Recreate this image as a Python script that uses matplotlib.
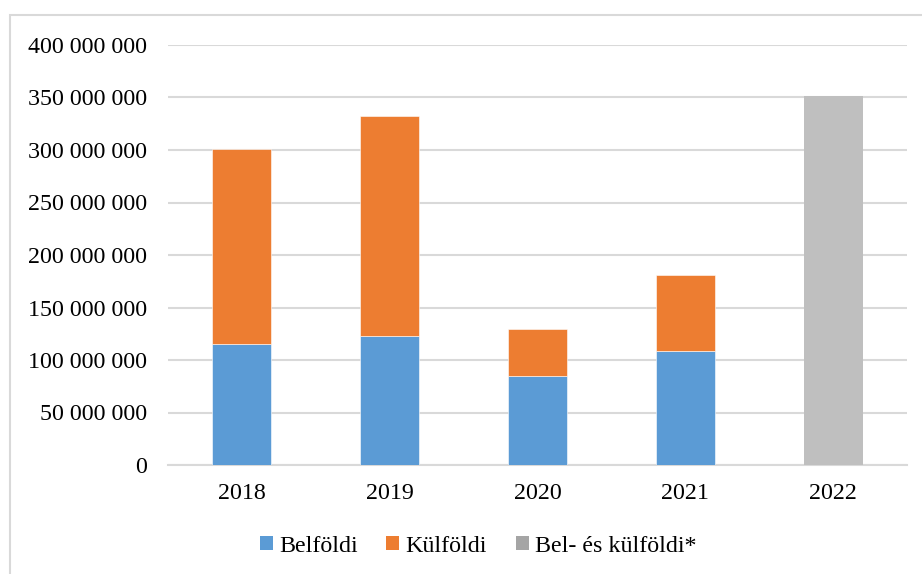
import matplotlib
matplotlib.use("Agg")
import matplotlib.pyplot as plt
import numpy as np
from matplotlib.patches import Patch, Rectangle

plt.rcParams["font.family"] = ["Liberation Serif", "DejaVu Serif"]

years = ["2018", "2019", "2020", "2021", "2022"]
belfoldi = [115.7e6, 123.3e6, 84.6e6, 108.1e6, 0]
kulfoldi = [185.3e6, 209.4e6, 45.0e6, 72.8e6, 0]
bel_es_kulfoldi = [0, 0, 0, 0, 351.7e6]
legend_labels = ["Belföldi", "Külföldi", "Bel- és külföldi*"]

BLUE = "#5B9BD5"
ORANGE = "#ED7D31"
GRAY_BAR = "#BFBFBF"
GRAY_LEG = "#A5A5A5"
FS = 17.3

W, H = 922, 574
fig = plt.figure(figsize=(W / 100, H / 100), dpi=100)

# outer chart border (cut off on right and bottom, as in the source)
fig.patches.append(
    Rectangle((10 / W, -0.05), 1.1, 1 - 15 / H + 0.05, transform=fig.transFigure,
              fill=False, edgecolor="#D9D9D9", linewidth=1.5, clip_on=False)
)

ax = fig.add_axes([168 / W, (H - 465) / H, (907 - 168) / W, 420 / H])

x = np.arange(len(years))
width = 0.4
ax.bar(x, belfoldi, width, color=BLUE, edgecolor="white", linewidth=0.4, zorder=3)
ax.bar(x, kulfoldi, width, bottom=belfoldi, color=ORANGE, edgecolor="white",
       linewidth=0.4, zorder=3)
ax.bar(x, bel_es_kulfoldi, width, color=GRAY_BAR, zorder=3)

ax.set_xlim(-0.5, len(years) - 0.5)
ax.set_ylim(0, 400e6)
yticks = np.arange(0, 400e6 + 1, 50e6)
ax.set_yticks(yticks)
ax.set_yticklabels([f"{int(v):,}".replace(",", " ") for v in yticks], fontsize=FS)
ax.set_xticks(x)
ax.set_xticklabels(years, fontsize=FS)
ax.tick_params(axis="y", length=0, pad=15)
ax.tick_params(axis="x", length=0, pad=13)

ax.grid(axis="y", color="#D9D9D9", linewidth=1.5, zorder=0)
for side in ["top", "right", "left"]:
    ax.spines[side].set_visible(False)
ax.spines["bottom"].set_color("#D9D9D9")
ax.spines["bottom"].set_linewidth(1.5)

handles = [Patch(facecolor=BLUE), Patch(facecolor=ORANGE), Patch(facecolor=GRAY_LEG)]
fig.legend(handles, legend_labels, loc="center", bbox_to_anchor=(478 / W, 1 - 546 / H),
           ncol=3, frameon=False, fontsize=FS, handlelength=0.55, handleheight=0.55,
           handletextpad=0.25, columnspacing=1.2)

fig.savefig("out.png", dpi=100)
